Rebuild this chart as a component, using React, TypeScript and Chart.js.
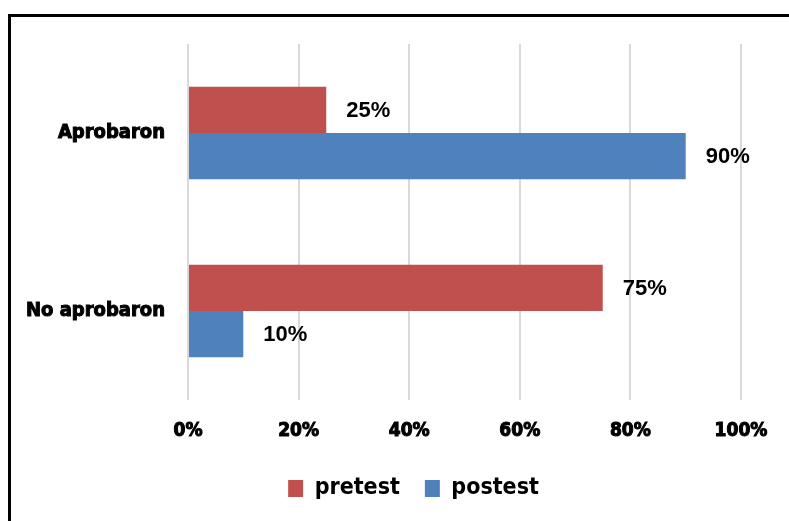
import React, { useEffect, useRef } from "react";
import { Chart, registerables } from "chart.js";

Chart.register(...registerables);

const categories = ["Aprobaron", "No aprobaron"];
const pretest = [25, 75];
const postest = [90, 10];
const xTicks = [0, 20, 40, 60, 80, 100];

const RED = "#c0504d";
const BLUE = "#4f81bd";
const TICK_FONT = "'DejaVu Sans Condensed', 'DejaVu Sans', sans-serif";
const LABEL_FONT = "'Liberation Sans', Arial, sans-serif";

const valueLabels = {
  id: "valueLabels",
  afterDatasetsDraw(chart: any) {
    const ctx = chart.ctx;
    ctx.save();
    ctx.font = `bold 22px ${LABEL_FONT}`;
    ctx.fillStyle = "#000";
    ctx.textBaseline = "middle";
    ctx.textAlign = "left";
    chart.data.datasets.forEach((ds: any, di: number) => {
      const meta = chart.getDatasetMeta(di);
      meta.data.forEach((el: any, i: number) => {
        ctx.fillText(`${ds.data[i]}%`, el.x + 20, el.y + 1);
      });
    });
    ctx.restore();
  },
};

const legendShift = {
  id: "legendShift",
  afterLayout(chart: any) {
    const lg = chart.legend;
    if (lg) {
      lg.left += 43;
      lg.right += 43;
    }
  },
};

export default function App() {
  const ref = useRef<HTMLCanvasElement>(null);
  useEffect(() => {
    const chart = new Chart(ref.current!, {
      type: "bar",
      data: {
        labels: categories,
        datasets: [
          { label: "pretest", data: pretest, backgroundColor: RED },
          { label: "postest", data: postest, backgroundColor: BLUE },
        ],
      },
      options: {
        indexAxis: "y",
        animation: false,
        responsive: false,
        devicePixelRatio: 1,
        layout: { padding: { left: 0, right: 48, top: 44, bottom: 11 } },
        datasets: { bar: { categoryPercentage: 0.52, barPercentage: 1 } },
        scales: {
          x: {
            min: 0,
            max: 100,
            afterBuildTicks: (s: any) => {
              s.ticks = xTicks.map((v) => ({ value: v }));
            },
            afterFit: (s: any) => {
              s.height = 52;
            },
            grid: { color: "#d9d9d9", lineWidth: 2, drawTicks: false },
            border: { display: false },
            ticks: {
              padding: 20,
              color: "#000",
              textStrokeColor: "#000",
              textStrokeWidth: 1,
              font: { family: TICK_FONT, size: 19, weight: "bold" },
              callback: (v: any) => `${v}%`,
            },
          },
          y: {
            afterFit: (s: any) => {
              s.width = 188;
            },
            grid: { display: false, drawTicks: false },
            border: { display: false },
            ticks: {
              padding: 23,
              color: "#000",
              textStrokeColor: "#000",
              textStrokeWidth: 1,
              font: { family: TICK_FONT, size: 20, weight: "bold" },
            },
          },
        },
        plugins: {
          legend: {
            position: "bottom",
            labels: {
              boxWidth: 15,
              boxHeight: 17,
              padding: 25,
              color: "#000",
              font: { family: TICK_FONT, size: 23, weight: "bold" },
            },
          },
          tooltip: { enabled: false },
        },
      } as any,
      plugins: [valueLabels, legendShift],
    });
    return () => chart.destroy();
  }, []);

  return (
    <div
      style={{
        position: "fixed",
        left: 0,
        top: 0,
        width: 789,
        height: 521,
        background: "#fff",
        overflow: "hidden",
      }}
    >
      <div
        style={{
          position: "absolute",
          left: 8,
          top: 14,
          width: 800,
          height: 520,
          borderTop: "3px solid #000",
          borderLeft: "3px solid #000",
          boxSizing: "border-box",
        }}
      />
      <canvas
        ref={ref}
        width={789}
        height={521}
        style={{ position: "absolute", left: 0, top: 0, width: 789, height: 521 }}
      />
    </div>
  );
}
